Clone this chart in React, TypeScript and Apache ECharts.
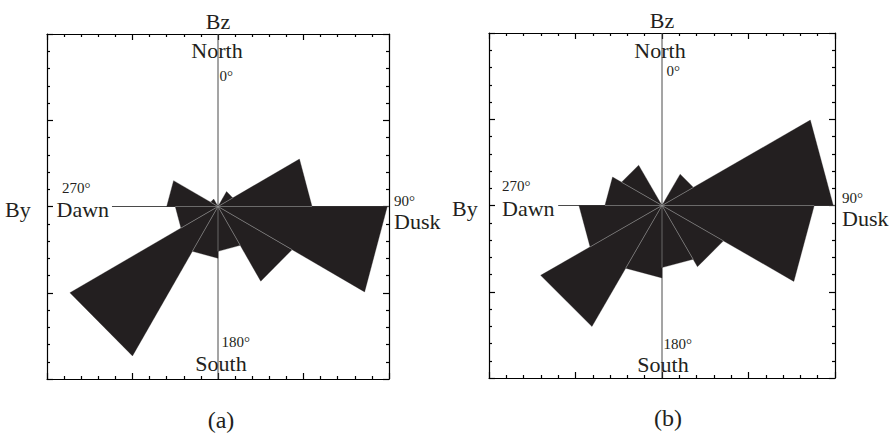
import React, { useEffect, useRef } from "react";
import * as echarts from "echarts";

// Bin start angles (degrees clockwise from North / +Bz), 30° wide bins
const binStarts = [0, 30, 60, 90, 120, 150, 180, 210, 240, 270, 300, 330];
const binWidth = 30;
// Normalised radii (1 = half frame width)
const roseA = [0.0, 0.1, 0.55, 0.99, 0.5, 0.26, 0.3, 1.0, 0.25, 0.3, 0.05, 0.0];
const roseB = [0.0, 0.21, 0.99, 0.88, 0.41, 0.36, 0.42, 0.81, 0.48, 0.33, 0.27, 0.0];
// Axis range and ticks
const axisMin = -1;
const axisMax = 1;
const majorInterval = 0.5;
const minorSplit = 5;
// Reference lines: vertical Bz axis and the dawn-side By line
const vLine = [[0, -1], [0, 1]];
const hLineA = [[-0.62, 0], [1, 0]];
const hLineB = [[-0.6, 0], [1, 0]];
// Texts
const topTitle = "Bz";
const sideTitle = "By";
const northLabel = "North";
const southLabel = "South";
const dawnLabel = "Dawn";
const duskLabel = "Dusk";
const deg0 = "0°";
const deg90 = "90°";
const deg180 = "180°";
const deg270 = "270°";
const panelLabels = ["(a)", "(b)"];

const INK = "#231f20";
const FONT = '"Liberation Serif", "Times New Roman", serif';

function sectorData(vals: number[]) {
  return binStarts.map((a, i) => {
    const prev = vals[(i - 1 + vals.length) % vals.length];
    return [a, a + binWidth, vals[i], Math.min(vals[i], prev)];
  });
}

function toXY(api: any, angDeg: number, r: number) {
  const t = (angDeg * Math.PI) / 180;
  return api.coord([r * Math.sin(t), r * Math.cos(t)]);
}

function sectorSeries(vals: number[], idx: number) {
  return {
    type: "custom",
    xAxisIndex: idx * 2,
    yAxisIndex: idx * 2,
    clip: false,
    z: 3,
    data: sectorData(vals),
    renderItem: (params: any, api: any) => {
      const a0 = api.value(0);
      const a1 = api.value(1);
      const r = api.value(2);
      const c = api.coord([0, 0]);
      const p0 = toXY(api, a0, r);
      const p1 = toXY(api, a1, r);
      return {
        type: "polygon",
        shape: { points: [c, p0, p1] },
        style: { fill: INK, stroke: INK, lineWidth: 0.3 },
      };
    },
  };
}

function raySeries(vals: number[], idx: number) {
  return {
    type: "custom",
    xAxisIndex: idx * 2,
    yAxisIndex: idx * 2,
    clip: false,
    z: 4,
    data: sectorData(vals),
    renderItem: (params: any, api: any) => {
      const a0 = api.value(0);
      const rr = api.value(3);
      const c = api.coord([0, 0]);
      const e = toXY(api, a0, rr);
      return {
        type: "line",
        shape: { x1: c[0], y1: c[1], x2: e[0], y2: e[1] },
        style: { stroke: "#9a9a9a", lineWidth: 0.6 },
      };
    },
  };
}

function lineSeries(pts: number[][], idx: number) {
  return {
    type: "line",
    xAxisIndex: idx * 2,
    yAxisIndex: idx * 2,
    data: pts,
    symbol: "none",
    z: 2,
    silent: true,
    lineStyle: { color: "#4a4a4a", width: 1 },
  };
}

const tickStyle = { color: "#000000", width: 1.2 };

function xAx(gridIndex: number, position: string) {
  return {
    type: "value",
    gridIndex,
    position,
    min: axisMin,
    max: axisMax,
    interval: majorInterval,
    axisLine: { show: true, onZero: false, lineStyle: tickStyle },
    axisTick: { show: true, inside: true, length: 6, lineStyle: tickStyle },
    minorTick: { show: true, splitNumber: minorSplit, length: 3, lineStyle: tickStyle },
    axisLabel: { show: false },
    splitLine: { show: false },
    minorSplitLine: { show: false },
  };
}

function txt(text: string, x: number, y: number, size: number, align = "left") {
  return {
    type: "text",
    x,
    y,
    z: 10,
    style: {
      text,
      fill: INK,
      font: `${size}px ${FONT}`,
      textAlign: align,
      align,
      textVerticalAlign: "middle",
      verticalAlign: "middle",
    },
  };
}

const BIG = 22;
const SMALL = 15;

const texts = [
  // panel (a)
  txt(topTitle, 218, 21, BIG, "center"),
  txt(northLabel, 217, 50, BIG, "center"),
  txt(deg0, 219.5, 75.5, SMALL),
  txt(deg270, 62, 187.5, SMALL),
  txt(sideTitle, 5, 209, BIG),
  txt(dawnLabel, 56.5, 209, BIG),
  txt(deg90, 394, 200.5, SMALL),
  txt(duskLabel, 394, 221.5, BIG),
  txt(deg180, 221.5, 342, SMALL),
  txt(southLabel, 221, 363, BIG, "center"),
  txt(panelLabels[0], 221, 420, 24, "center"),
  // panel (b)
  txt(topTitle, 662, 20, BIG, "center"),
  txt(northLabel, 660, 50, BIG, "center"),
  txt(deg0, 666.5, 71, SMALL),
  txt(deg270, 502, 186, SMALL),
  txt(sideTitle, 452, 208, BIG),
  txt(dawnLabel, 502, 208, BIG),
  txt(deg90, 842, 197.5, SMALL),
  txt(duskLabel, 842, 218.5, BIG),
  txt(deg180, 663.5, 343.5, SMALL),
  txt(southLabel, 663, 364.5, BIG, "center"),
  txt(panelLabels[1], 668, 418, 24, "center"),
];

const option: any = {
  animation: false,
  backgroundColor: "#ffffff",
  grid: [
    { left: 47, top: 34, width: 342, height: 345 },
    { left: 489, top: 33, width: 346, height: 345 },
  ],
  xAxis: [xAx(0, "bottom"), xAx(0, "top"), xAx(1, "bottom"), xAx(1, "top")],
  yAxis: [xAx(0, "left"), xAx(0, "right"), xAx(1, "left"), xAx(1, "right")],
  series: [
    lineSeries(vLine, 0),
    lineSeries(hLineA, 0),
    sectorSeries(roseA, 0),
    raySeries(roseA, 0),
    lineSeries(vLine, 1),
    lineSeries(hLineB, 1),
    sectorSeries(roseB, 1),
    raySeries(roseB, 1),
  ],
  graphic: texts,
};

export default function App() {
  const ref = useRef<HTMLDivElement>(null);
  useEffect(() => {
    document.body.style.margin = "0";
    const chart = echarts.init(ref.current as HTMLDivElement, null, { renderer: "svg" });
    chart.setOption(option);
    return () => chart.dispose();
  }, []);
  return <div ref={ref} style={{ width: 891, height: 434 }} />;
}
